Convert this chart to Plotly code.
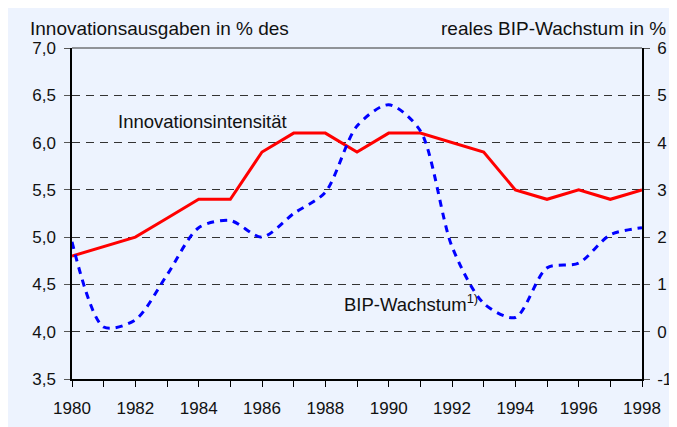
import plotly.graph_objects as go

years = list(range(1980, 1999))
innovationsintensitaet = [4.8, 4.9, 5.0, 5.2, 5.4, 5.4, 5.9, 6.1, 6.1, 5.9, 6.1, 6.1, 6.0, 5.9, 5.5, 5.4, 5.5, 5.4, 5.5]
bip_wachstum = [1.9, 0.1, 0.25, 1.2, 2.2, 2.35, 2.0, 2.5, 2.95, 4.35, 4.8, 4.25, 1.8, 0.6, 0.3, 1.35, 1.45, 2.05, 2.2]

left_ticks = [3.5, 4.0, 4.5, 5.0, 5.5, 6.0, 6.5, 7.0]
left_labels = ["3,5", "4,0", "4,5", "5,0", "5,5", "6,0", "6,5", "7,0"]
right_ticks = [-1, 0, 1, 2, 3, 4, 5, 6]
right_labels = ["-1", "0", "1", "2", "3", "4", "5", "6"]
x_ticks = [1980, 1982, 1984, 1986, 1988, 1990, 1992, 1994, 1996, 1998]
x_labels = ["1980", "1982", "1984", "1986", "1988", "1990", "1992", "1994", "1996", "1998"]

FONT = "Liberation Sans, Arial, sans-serif"
BG = "#EDF3FE"

# page is rendered with an 8px body margin; figure size compensates
W, H = 669, 419
L, R, T, B = 64, 35, 40, 48
PW, PH = W - L - R, H - T - B

fig = go.Figure()
fig.add_trace(go.Scatter(x=years, y=innovationsintensitaet, mode="lines",
                         line=dict(color="#FF0000", width=3), yaxis="y", showlegend=False))
fig.add_trace(go.Scatter(x=years, y=bip_wachstum, mode="lines",
                         line=dict(color="#0000FF", width=3, dash="7px,6px", shape="spline", smoothing=0.8),
                         yaxis="y2", showlegend=False))

fig.update_layout(
    width=W, height=H,
    margin=dict(l=L, r=R, t=T, b=B),
    paper_bgcolor=BG, plot_bgcolor=BG,
    font=dict(family=FONT, size=17, color="#111111"),
    xaxis=dict(range=[1980, 1998], tickvals=x_ticks, ticktext=x_labels,
               ticks="outside", ticklen=6, tickcolor="#000", tickwidth=1, ticklabelstandoff=7,
               minor=dict(dtick=1, tick0=1980, ticks="outside", ticklen=6, tickcolor="#000", tickwidth=1, showgrid=False),
               showline=True, linecolor="#000", linewidth=2, showgrid=False, zeroline=False, automargin=False),
    yaxis=dict(range=[3.5, 7.0], tickvals=left_ticks, ticktext=left_labels,
               ticks="outside", ticklen=6, tickcolor="#555", tickwidth=1, ticklabelstandoff=5,
               showline=True, linecolor="#000", linewidth=1.5,
               showgrid=True, gridcolor="#333", gridwidth=1, griddash="8px,6px", zeroline=False, automargin=False),
    yaxis2=dict(range=[-1, 6], tickvals=right_ticks, ticktext=right_labels, overlaying="y", side="right",
                ticks="outside", ticklen=6, tickcolor="#555", tickwidth=1, ticklabelstandoff=4,
                showline=True, linecolor="#000", linewidth=1.5, showgrid=False, zeroline=False, automargin=False),
    shapes=[
        dict(type="line", xref="paper", yref="paper", x0=0, x1=1, y0=1, y1=1,
             line=dict(color="#333", width=1)),
    ],
    annotations=[
        dict(text="Innovationsausgaben in % des", xref="paper", yref="paper", x=(20 - L) / PW, y=(H - B - 20) / PH,
             xanchor="left", yanchor="middle", showarrow=False, font=dict(size=19)),
        dict(text="reales BIP-Wachstum in %", xref="paper", yref="paper", x=(660 - L) / PW, y=(H - B - 20) / PH,
             xanchor="right", yanchor="middle", showarrow=False, font=dict(size=19)),
        dict(text="Innovationsintensität", x=1984.13, y=6.225, xref="x", yref="y",
             xanchor="center", yanchor="middle", showarrow=False, font=dict(size=18.5)),
        dict(text="BIP-Wachstum<sup>1)</sup>", x=1988.52, y=4.30, xref="x", yref="y",
             xanchor="left", yanchor="middle", showarrow=False, font=dict(size=18.5)),
    ],
)

fig.write_html("out.html")
